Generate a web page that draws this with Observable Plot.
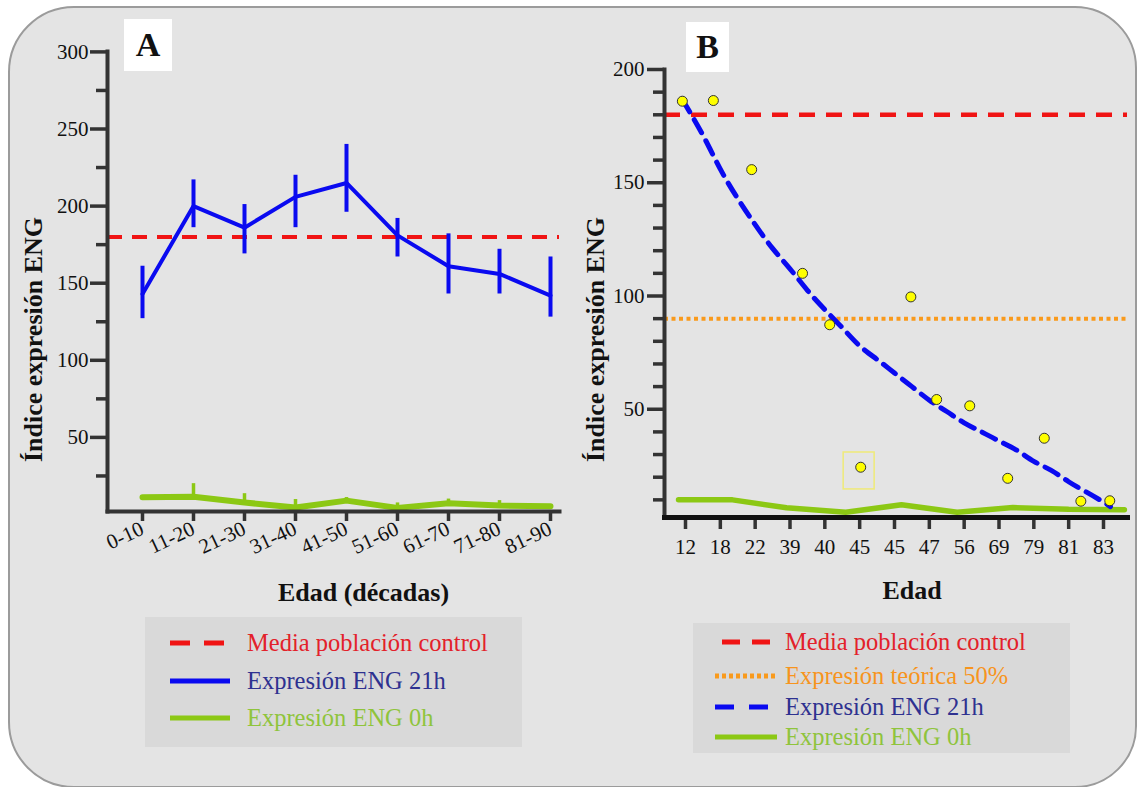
<!DOCTYPE html>
<html><head><meta charset="utf-8">
<script src="https://cdn.jsdelivr.net/npm/d3@7"></script>
<script src="https://cdn.jsdelivr.net/npm/@observablehq/plot@0.6"></script>
<style>
html,body{margin:0;padding:0;background:#fff;}
#page{position:relative;width:1137px;height:787px;overflow:hidden;font-family:"Liberation Serif",serif;}
#panel{position:absolute;left:8px;top:6px;width:1129px;height:782px;box-sizing:border-box;background:#e4e4e4;border:2px solid #9b9b9b;border-radius:66px 62px 62px 66px;}
.plot{position:absolute;top:0;}
.tag{position:absolute;background:#fff;font:bold 34px "Liberation Serif",serif;color:#111;display:flex;align-items:center;justify-content:center;}
.legend{position:absolute;background:#d9d9d9;}
.lt{position:absolute;font:24.5px "Liberation Serif",serif;white-space:nowrap;transform:translateY(-50%);line-height:1;}
#sw{position:absolute;left:0;top:0;}
</style></head>
<body>
<div id="page">
  <div id="panel"></div>
  <div id="plotA" class="plot" style="left:0"></div>
  <div id="plotB" class="plot" style="left:570px"></div>
  <div class="tag" style="left:124px;top:19px;width:48px;height:52px">A</div>
  <div class="tag" style="left:686px;top:22px;width:43px;height:50px">B</div>
  <div class="legend" style="left:145px;top:617px;width:377px;height:130px"></div>
  <div class="legend" style="left:693px;top:623px;width:377px;height:130px"></div>
  <div id="legendText"></div>
  <svg id="sw" width="1137" height="787"></svg>
</div>
<script>
// ---------- DATA ----------
const decades = ["0-10","11-20","21-30","31-40","41-50","51-60","61-70","71-80","81-90"];
const eng21 =   [143, 200, 186, 206, 215, 181, 161, 156, 142];
const eng21Lo = [127, 186, 169, 186, 196, 167, 143, 143, 128];
const eng21Hi = [161, 217, 201, 220, 240, 192, 182, 172, 167];
const eng0 =    [11.2, 11.5, 7.8, 4.5, 9, 4.3, 7.3, 5.8, 5.4];
const eng0Hi =  [11.2, 20, 13.5, 9.7, 11, 7.5, 10, 9, 5.4];
const controlMean = 180;
const theoretical50 = 90;

const ages = ["12","18","22","39","40","45","45","47","56","69","79","81","83"];
const samplePos = [-0.09, 0.8, 1.9, 3.36, 4.14, 5.03, 6.47, 7.21, 8.16, 9.25, 10.3, 11.35, 12.18];
const sampleVal = [186, 186.3, 155.8, 110, 87.3, 24.4, 99.6, 54.3, 51.5, 19.5, 37.2, 9.4, 9.6];
const fitPos = [-0.1, 0.5, 1, 1.5, 2, 2.5, 3, 3.5, 4, 4.5, 5, 5.5, 6, 6.5, 7, 7.5, 8, 8.5, 9, 9.5, 10, 10.5, 11, 11.5, 12, 12.2];
const fitVal = [187, 171, 156, 143, 131.5, 121, 112, 102.5, 94, 86, 78, 72, 66, 60, 54, 49, 44, 40, 36, 32, 27, 23, 18, 13.5, 9, 7];
const eng0bPos = [-0.2, 1.35, 2.9, 4.6, 6.2, 7.8, 9.4, 11.0, 12.6];
const eng0bVal = [10, 10, 6.5, 4.5, 7.8, 4.5, 6.6, 5.8, 5.6];
const highlightPos = [4.54, 5.43];
const highlightVal = [14.6, 30.9];

const yTicksA = [50, 100, 150, 200, 250, 300];
const yMinorA = [25, 75, 125, 175, 225, 275];
const yTicksB = [50, 100, 150, 200];
const yMinorB = [10, 20, 30, 40, 60, 70, 80, 90, 110, 120, 130, 140, 160, 170, 180, 190];

const colRed = "#f01414", colBlue = "#0a0af0", colGreen = "#8cc814", colOrange = "#f99a1c";
const axisCol = "#333";

// ---------- TABLES ----------
const dataA = decades.map((d, i) => ({decade: d, v21: eng21[i], lo: eng21Lo[i], hi: eng21Hi[i], v0: eng0[i], hi0: eng0Hi[i]}));
const samples = samplePos.map((p, i) => ({pos: p, val: sampleVal[i]}));
const fit = fitPos.map((p, i) => ({pos: p, val: fitVal[i]}));
const green0 = eng0bPos.map((p, i) => ({pos: p, val: eng0bVal[i]}));
const box = [{x1: highlightPos[0], x2: highlightPos[1], y1: highlightVal[0], y2: highlightVal[1]}];

const baseStyle = {background: "transparent", fontFamily: "Liberation Serif, serif", fontSize: "21px", color: "#111", overflow: "visible"};
const titleFont = {fontWeight: "bold", fontSize: 26, fontFamily: "Liberation Serif, serif", fill: "#111", textAnchor: "middle", lineAnchor: "middle"};

// ---------- PANEL A ----------
const plotA = Plot.plot({
  width: 570, height: 620,
  marginLeft: 107, marginTop: 51, marginBottom: 109, marginRight: 11,
  x: {type: "point", domain: decades, range: [141, 551], padding: 0},
  y: {domain: [0, 300], range: [514, 51.4]},
  style: baseStyle,
  marks: [
    Plot.ruleY([controlMean], {stroke: colRed, strokeWidth: 4, strokeDasharray: "15,10"}),
    Plot.ruleX(dataA, {x: "decade", y1: "lo", y2: "hi", stroke: colBlue, strokeWidth: 4}),
    Plot.line(dataA, {x: "decade", y: "v21", stroke: colBlue, strokeWidth: 4}),
    Plot.ruleX(dataA, {x: "decade", y1: "v0", y2: "hi0", stroke: colGreen, strokeWidth: 3.5}),
    Plot.line(dataA, {x: "decade", y: "v0", stroke: colGreen, strokeWidth: 6}),
    Plot.frame({anchor: "left", stroke: axisCol, strokeWidth: 4}),
    Plot.frame({anchor: "bottom", stroke: axisCol, strokeWidth: 4}),
    Plot.axisY({ticks: yTicksA, tickSize: 17, tickPadding: 2, stroke: axisCol, strokeWidth: 3.5, label: null}),
    Plot.axisY({ticks: yMinorA, tickSize: 11, tickFormat: () => "", stroke: axisCol, strokeWidth: 3.5, label: null}),
    Plot.axisX({tickSize: 10, tickRotate: -25, tickPadding: 6, stroke: axisCol, strokeWidth: 3.5, label: null}),
    Plot.text(["Índice expresión ENG"], {frameAnchor: "left", rotate: -90, dx: -74, dy: 58, ...titleFont}),
    Plot.text(["Edad (décadas)"], {frameAnchor: "bottom", dx: 30, dy: 81, ...titleFont})
  ]
});
document.getElementById("plotA").append(plotA);

// ---------- PANEL B ----------
const plotB = Plot.plot({
  width: 567, height: 620,
  marginLeft: 94, marginTop: 69, marginBottom: 103, marginRight: 10,
  x: {domain: [0, 12], range: [115, 533]},
  y: {domain: [0, 200], range: [522, 69]},
  style: baseStyle,
  marks: [
    Plot.ruleY([controlMean], {stroke: colRed, strokeWidth: 4.5, strokeDasharray: "16,11"}),
    Plot.ruleY([theoretical50], {stroke: colOrange, strokeWidth: 4, strokeDasharray: "4,3.5"}),
    Plot.line(green0, {x: "pos", y: "val", stroke: colGreen, strokeWidth: 5.5}),
    Plot.line(fit, {x: "pos", y: "val", stroke: colBlue, strokeWidth: 5, strokeDasharray: "15,9", curve: "natural"}),
    Plot.rect(box, {x1: "x1", x2: "x2", y1: "y1", y2: "y2", fill: "none", stroke: "#efea78", strokeWidth: 1.5}),
    Plot.dot(samples, {x: "pos", y: "val", r: 5, fill: "#ffff00", stroke: "#333", strokeWidth: 1}),
    Plot.frame({anchor: "left", stroke: axisCol, strokeWidth: 4}),
    Plot.frame({anchor: "bottom", stroke: "#111", strokeWidth: 5}),
    Plot.axisY({ticks: yTicksB, tickSize: 17, tickPadding: 3, stroke: axisCol, strokeWidth: 3.5, label: null}),
    Plot.axisY({ticks: yMinorB, tickSize: 11, tickFormat: () => "", stroke: axisCol, strokeWidth: 3.5, label: null}),
    Plot.axisX({ticks: d3.range(ages.length), tickFormat: i => ages[i], tickSize: 9, dy: 3, tickPadding: 10, stroke: axisCol, strokeWidth: 3.5, label: null}),
    Plot.text(["Índice expresión ENG"], {frameAnchor: "left", rotate: -90, dx: -69, dy: 46, ...titleFont}),
    Plot.text(["Edad"], {frameAnchor: "bottom", dx: 16, dy: 73, ...titleFont})
  ]
});
document.getElementById("plotB").append(plotB);

// ---------- LEGENDS ----------
const legendA = [
  {label: "Media población control", color: "#e3212a", stroke: colRed, dash: "20,14", x1: 170, x2: 224, y: 643, tx: 247},
  {label: "Expresión ENG 21h", color: "#2e3190", stroke: colBlue, dash: null, x1: 170, x2: 230, y: 681, tx: 247},
  {label: "Expresión ENG 0h", color: "#8fc43c", stroke: colGreen, dash: null, x1: 170, x2: 230, y: 718, tx: 247}
];
const legendB = [
  {label: "Media población control", color: "#e3212a", stroke: colRed, dash: "18,12", x1: 722, x2: 770, y: 642, tx: 785},
  {label: "Expresión teórica 50%", color: "#f7941d", stroke: colOrange, dash: "4,3", x1: 715, x2: 777, y: 676, tx: 785},
  {label: "Expresión ENG 21h", color: "#2e3190", stroke: colBlue, dash: "19,15", x1: 715, x2: 770, y: 707, tx: 785},
  {label: "Expresión ENG 0h", color: "#8fc43c", stroke: colGreen, dash: null, x1: 715, x2: 777, y: 737, tx: 785}
];
const sw = d3.select("#sw");
const lt = d3.select("#legendText");
for (const item of legendA.concat(legendB)) {
  sw.append("line").attr("x1", item.x1).attr("x2", item.x2).attr("y1", item.y).attr("y2", item.y)
    .attr("stroke", item.stroke).attr("stroke-width", 5).attr("stroke-dasharray", item.dash);
  lt.append("div").attr("class", "lt").style("left", item.tx + "px").style("top", item.y + "px")
    .style("color", item.color).text(item.label);
}
</script>
</body></html>
